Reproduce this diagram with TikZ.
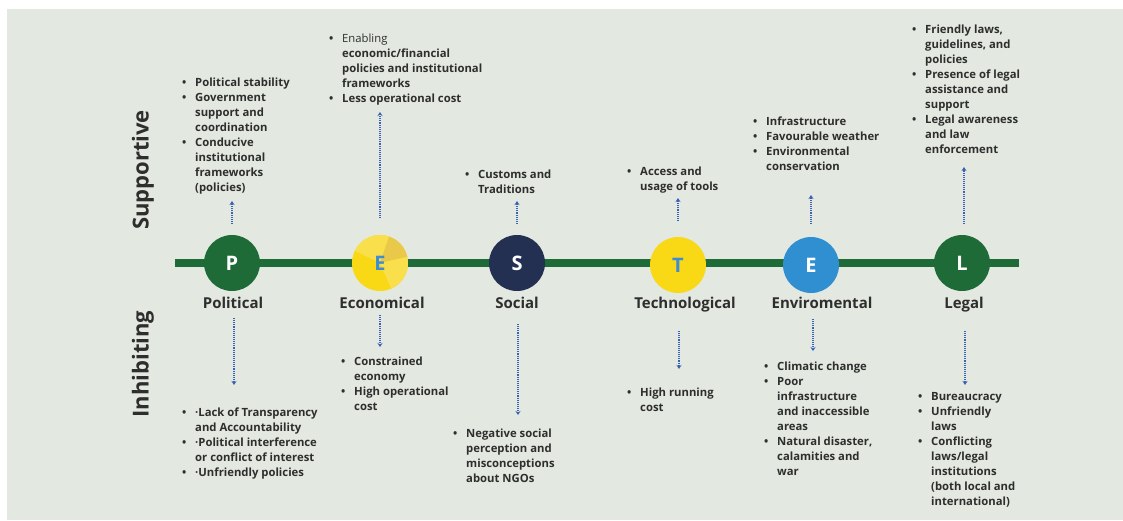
\documentclass[tikz,border=0pt]{standalone}
\usepackage{fontspec}
\setmainfont{Open Sans}
\usepackage{xcolor}
\usetikzlibrary{arrows.meta}
\definecolor{bgpanel}{HTML}{E3E8E0}
\definecolor{pgreen}{HTML}{1E6B37}
\definecolor{pyellow}{HTML}{F9D816}
\definecolor{pyellowlt}{HTML}{F9DF4C}
\definecolor{pyellowdk}{HTML}{EAC84A}
\definecolor{pnavy}{HTML}{243052}
\definecolor{pblue}{HTML}{2F8FD1}
\definecolor{pletter}{HTML}{3C8DD3}
\definecolor{ptext}{HTML}{2E2E2E}
\definecolor{parrow}{HTML}{3A62B5}
\newcommand{\itm}{\makebox[13pt][l]{\textbullet}}
\newcommand{\cnt}{\hspace*{13pt}}

\begin{document}
\begin{tikzpicture}[x=1pt, y=-1pt, >={Stealth[length=4pt, width=5pt]},
  pillar/.style={circle, minimum size=56pt, inner sep=0pt, font=\fontsize{20}{20}\selectfont\bfseries},
  pillarname/.style={anchor=base, font=\fontsize{15}{16}\selectfont\bfseries, text=ptext},
  pts/.style={anchor=base west, align=left, inner sep=0pt, font=\fontsize{11.3}{15}\selectfont\bfseries, text=ptext},
  flow/.style={->, densely dotted, line width=1.1pt, draw=parrow},
  side/.style={rotate=90, font=\fontsize{22}{22}\selectfont\bfseries, text=ptext}]
  \useasboundingbox (0,0) rectangle (1123,520);
  \fill[bgpanel] (7,9) rectangle (1123,520);

  % axis labels
  \node[side] (supp) at (143,170) {Supportive};
  \node[side] (inhib) at (143,364) {Inhibiting};

  % timeline
  \coordinate (lineL) at (175,263);
  \coordinate (lineR) at (1019,263);
  \draw[pgreen, line width=8pt] (lineL) -- (lineR);

  % pillars
  \node[pillar, fill=pgreen, text=white] (polC) at (232,263) {P};
  \node[pillar, fill=pyellow, text=pletter] (ecoC) at (380,263) {};
  \begin{scope}
    \clip (ecoC.center) circle (28);
    \fill[pyellowlt] (ecoC.center) -- (345,246) -- (345,228) -- (392,228) -- cycle;
    \fill[pyellowdk] (ecoC.center) -- (392,228) -- (420,228) -- (420,254) -- cycle;
    \fill[pyellowlt] (ecoC.center) -- (420,254) -- (420,300) -- (396,300) -- cycle;
  \end{scope}
  \node[pillar, text=pletter] at (ecoC) {E};
  \node[pillar, fill=pnavy, text=white] (socC) at (517,263) {S};
  \node[pillar, fill=pyellow, text=pletter] (tecC) at (678,265) {T};
  \node[pillar, fill=pblue, text=white] (envC) at (811,265) {E};
  \node[pillar, fill=pgreen, text=white] (legC) at (962,263) {L};

  \node[pillarname] (polN) at (233,308) {Political};
  \node[pillarname] (ecoN) at (382,308) {Economical};
  \node[pillarname] (socN) at (517,308) {Social};
  \node[pillarname] (tecN) at (685,308) {Technological};
  \node[pillarname] (envN) at (822,308) {Enviromental};
  \node[pillarname] (legN) at (964,308) {Legal};

  % supportive factors (placed by the baseline of the last line)
  \node[pts] (polSup) at (182,191) {\itm Political stability\\ \itm Government\\ \cnt support and\\ \cnt coordination\\ \itm Conducive\\ \cnt institutional\\ \cnt frameworks\\ \cnt (policies)};
  \node[pts] (ecoSup) at (329,102) {\itm {\mdseries Enabling}\\ \cnt economic/financial\\ \cnt policies and institutional\\ \cnt frameworks\\ \itm Less operational cost};
  \node[pts] (socSup) at (465,193) {\itm Customs and\\ \cnt Traditions};
  \node[pts] (tecSup) at (627,190) {\itm Access and\\ \cnt usage of tools};
  \node[pts] (envSup) at (753,170) {\itm Infrastructure\\ \itm Favourable weather\\ \itm Environmental\\ \cnt conservation};
  \node[pts] (legSup) at (912,153) {\itm Friendly laws,\\ \cnt guidelines, and\\ \cnt policies\\ \itm Presence of legal\\ \cnt assistance and\\ \cnt support\\ \itm Legal awareness\\ \cnt and law\\ \cnt enforcement};

  % inhibiting factors
  \node[pts] (polInh) at (182,476) {\itm ·Lack of Transparency\\ \cnt and Accountability\\ \itm ·Political interference\\ \cnt or conflict of interest\\ \itm ·Unfriendly policies};
  \node[pts] (ecoInh) at (341,410) {\itm Constrained\\ \cnt economy\\ \itm High operational\\ \cnt cost};
  \node[pts] (socInh) at (453,482) {\itm Negative social\\ \cnt perception and\\ \cnt misconceptions\\ \cnt about NGOs};
  \node[pts] (tecInh) at (627,411) {\itm High running\\ \cnt cost};
  \node[pts] (envInh) at (764,475) {\itm Climatic change\\ \itm Poor\\ \cnt infrastructure\\ \cnt and inaccessible\\ \cnt areas\\ \itm Natural disaster,\\ \cnt calamities and\\ \cnt war};
  \node[pts] (legInh) at (918,505) {\itm Bureaucracy\\ \itm Unfriendly\\ \cnt laws\\ \itm Conflicting\\ \cnt laws/legal\\ \cnt institutions\\ \cnt (both local and\\ \cnt international)};

  % arrow ends
  \coordinate (polUpA) at (232,224); \coordinate (polUpB) at (232,201);
  \coordinate (ecoUpA) at (380,218); \coordinate (ecoUpB) at (380,112);
  \coordinate (socUpA) at (517,224); \coordinate (socUpB) at (517,201);
  \coordinate (tecUpA) at (678,221); \coordinate (tecUpB) at (678,198);
  \coordinate (envUpA) at (811,224); \coordinate (envUpB) at (811,195);
  \coordinate (legUpA) at (964,224); \coordinate (legUpB) at (964,167);
  \coordinate (polDnA) at (234,318); \coordinate (polDnB) at (234,385);
  \coordinate (ecoDnA) at (380,315); \coordinate (ecoDnB) at (380,347);
  \coordinate (socDnA) at (518,324); \coordinate (socDnB) at (518,415);
  \coordinate (tecDnA) at (679,331); \coordinate (tecDnB) at (679,369);
  \coordinate (envDnA) at (813,319); \coordinate (envDnB) at (813,351);
  \coordinate (legDnA) at (965,331); \coordinate (legDnB) at (965,385);

  \draw[flow] (polUpA) -- (polUpB);
  \draw[flow] (ecoUpA) -- (ecoUpB);
  \draw[flow] (socUpA) -- (socUpB);
  \draw[flow] (tecUpA) -- (tecUpB);
  \draw[flow] (envUpA) -- (envUpB);
  \draw[flow] (legUpA) -- (legUpB);
  \draw[flow] (polDnA) -- (polDnB);
  \draw[flow] (ecoDnA) -- (ecoDnB);
  \draw[flow] (socDnA) -- (socDnB);
  \draw[flow] (tecDnA) -- (tecDnB);
  \draw[flow] (envDnA) -- (envDnB);
  \draw[flow] (legDnA) -- (legDnB);
\end{tikzpicture}
\end{document}
